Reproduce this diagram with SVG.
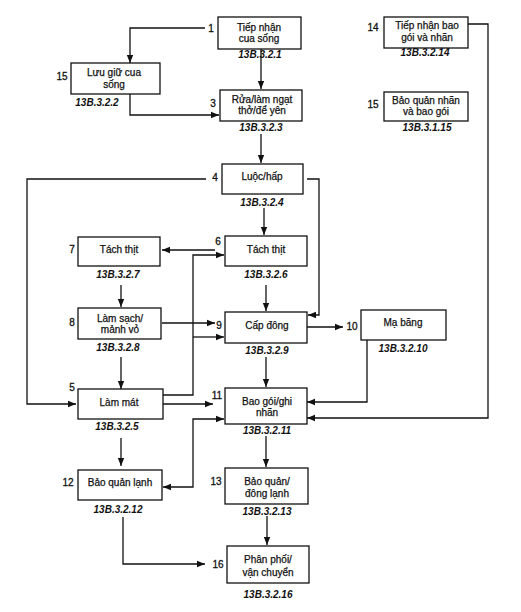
<svg xmlns="http://www.w3.org/2000/svg" width="521" height="612" viewBox="0 0 521 612">
<defs>
<marker id="ah" markerUnits="userSpaceOnUse" markerWidth="8" markerHeight="8" viewBox="0 0 8 8" refX="8" refY="4" orient="auto-start-reverse">
<path d="M0,0.8 L8,4 L0,7.2 Z" fill="#111"/>
</marker>
<style>
.box{fill:#fff;stroke:#111;stroke-width:1.3}
.t{font-family:"Liberation Sans",Arial,sans-serif;font-size:10px;fill:#111;stroke:#111;stroke-width:0.25;text-anchor:middle}
.c{font-family:"Liberation Sans",Arial,sans-serif;font-size:10px;font-style:italic;font-weight:bold;fill:#111;text-anchor:middle}
.n{font-family:"Liberation Sans",Arial,sans-serif;font-size:10px;fill:#111;stroke:#111;stroke-width:0.3;text-anchor:middle}
.l{fill:none;stroke:#111;stroke-width:1.3}
.a{marker-end:url(#ah)}
</style>
</defs>
<rect width="521" height="612" fill="#fff"/>
<g id="connectors">
<path class="l a" d="M205,28 H130 V63"/>
<path class="l a" d="M261,49 V89"/>
<path class="l a" d="M130,94 V115 H219"/>
<path class="l a" d="M261,134 V163"/>
<path class="l a" d="M206,179 H27 V404 H76"/>
<path class="l a" d="M307,179 H319 V315 H308"/>
<path class="l a" d="M264,208 V235"/>
<path class="l a" d="M215,250 H162"/>
<path class="l a" d="M163,395 H193 V255 H224"/>
<path class="l a" d="M193,337 H224"/>
<path class="l a" d="M121,285 V307"/>
<path class="l a" d="M162,323 H215"/>
<path class="l a" d="M121,357 V389"/>
<path class="l a" d="M266,285 V311"/>
<path class="l a" d="M307,327 H343"/>
<path class="l a" d="M266,357 V387"/>
<path class="l a" d="M163,404 H213"/>
<path class="l a" d="M367,340 V402 H307"/>
<path class="l a" d="M468,24 H488 V418 H307"/>
<path class="l a" d="M224,419 H193 V487 H163" marker-start="url(#ah)"/>
<path class="l a" d="M121,438 V466"/>
<path class="l a" d="M123,517 V564 H205"/>
<path class="l a" d="M266,436 V467"/>
<path class="l a" d="M267,516 V545"/>
</g>
<g id="n1">
<rect class="box" x="218" y="17" width="83" height="32"/>
<text class="t" x="259" y="31">Tiếp nhận</text>
<text class="t" x="259" y="42">cua sống</text>
<text class="n" x="211" y="32">1</text>
<text class="c" x="260" y="58">13B.3.2.1</text>
</g>
<g id="n15a">
<rect class="box" x="71" y="63" width="89" height="31"/>
<text class="t" x="114" y="76">Lưu giữ cua</text>
<text class="t" x="114" y="88">sống</text>
<text class="n" x="62" y="80">15</text>
<text class="c" x="97" y="106">13B.3.2.2</text>
</g>
<g id="n3">
<rect class="box" x="220" y="90" width="82" height="31"/>
<text class="t" x="262" y="103">Rửa/làm ngạt</text>
<text class="t" x="262" y="114">thở/để yên</text>
<text class="n" x="213" y="107">3</text>
<text class="c" x="261" y="131">13B.3.2.3</text>
</g>
<g id="n4">
<rect class="box" x="222" y="164" width="81" height="30"/>
<text class="t" x="262" y="180">Luộc/hấp</text>
<text class="n" x="215" y="181">4</text>
<text class="c" x="262" y="206">13B.3.2.4</text>
</g>
<g id="n6">
<rect class="box" x="225" y="236" width="82" height="30"/>
<text class="t" x="266" y="253">Tách thịt</text>
<text class="n" x="218" y="245">6</text>
<text class="c" x="266" y="278">13B.3.2.6</text>
</g>
<g id="n7">
<rect class="box" x="78" y="237" width="82" height="29"/>
<text class="t" x="119" y="253">Tách thịt</text>
<text class="n" x="72" y="253">7</text>
<text class="c" x="118" y="278">13B.3.2.7</text>
</g>
<g id="n8">
<rect class="box" x="78" y="308" width="83" height="31"/>
<text class="t" x="120" y="322">Làm sạch/</text>
<text class="t" x="120" y="333">mảnh vỏ</text>
<text class="n" x="72" y="326">8</text>
<text class="c" x="118" y="351">13B.3.2.8</text>
</g>
<g id="n9">
<rect class="box" x="225" y="312" width="82" height="31"/>
<text class="t" x="267" y="329">Cấp đông</text>
<text class="n" x="219" y="329">9</text>
<text class="c" x="267" y="354">13B.3.2.9</text>
</g>
<g id="n10">
<rect class="box" x="361" y="310" width="85" height="30"/>
<text class="t" x="403" y="326">Mạ băng</text>
<text class="n" x="352" y="330">10</text>
<text class="c" x="403" y="352">13B.3.2.10</text>
</g>
<g id="n5">
<rect class="box" x="78" y="389" width="85" height="30"/>
<text class="t" x="119" y="406">Làm mát</text>
<text class="n" x="72" y="391">5</text>
<text class="c" x="117" y="430">13B.3.2.5</text>
</g>
<g id="n11">
<rect class="box" x="225" y="388" width="82" height="36"/>
<text class="t" x="267" y="405">Bao gói/ghi</text>
<text class="t" x="267" y="416">nhãn</text>
<text class="n" x="217" y="399">11</text>
<text class="c" x="267" y="434">13B.3.2.11</text>
</g>
<g id="n12">
<rect class="box" x="78" y="470" width="84" height="30"/>
<text class="t" x="120" y="486">Bảo quản lạnh</text>
<text class="n" x="68" y="486">12</text>
<text class="c" x="118" y="513">13B.3.2.12</text>
</g>
<g id="n13">
<rect class="box" x="225" y="468" width="83" height="36"/>
<text class="t" x="267" y="485">Bảo quản/</text>
<text class="t" x="267" y="497">đông lạnh</text>
<text class="n" x="216" y="485">13</text>
<text class="c" x="267" y="515">13B.3.2.13</text>
</g>
<g id="n16">
<rect class="box" x="227" y="546" width="82" height="37"/>
<text class="t" x="268" y="563">Phân phối/</text>
<text class="t" x="268" y="576">vận chuyển</text>
<text class="n" x="218" y="568">16</text>
<text class="c" x="268" y="598">13B.3.2.16</text>
</g>
<g id="n14">
<rect class="box" x="384" y="17" width="84" height="31"/>
<text class="t" x="427" y="29">Tiếp nhận bao</text>
<text class="t" x="427" y="41">gói và nhãn</text>
<text class="n" x="373" y="31">14</text>
<text class="c" x="425" y="56">13B.3.2.14</text>
</g>
<g id="n15b">
<rect class="box" x="384" y="92" width="84" height="29"/>
<text class="t" x="426" y="104">Bảo quản nhãn</text>
<text class="t" x="426" y="115">và bao gói</text>
<text class="n" x="373" y="108">15</text>
<text class="c" x="427" y="131">13B.3.1.15</text>
</g>
</svg>
